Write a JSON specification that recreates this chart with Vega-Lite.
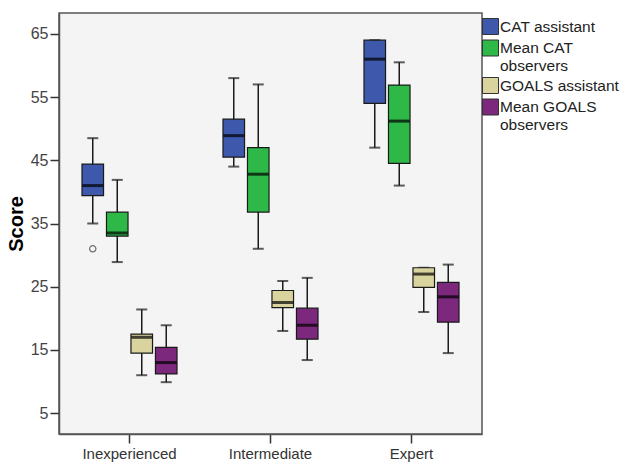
{
  "$schema": "https://vega.github.io/schema/vega-lite/v6.json",
  "autosize": {"type": "none"},
  "padding": {"left": 59, "top": 13, "right": 138, "bottom": 28},
  "width": 423,
  "height": 421,
  "background": "white",
  "config": {
    "view": {"fill": "#F4F4F4", "stroke": "#555555", "strokeWidth": 1.5},
    "font": "Liberation Sans",
    "axis": {
      "labelFont": "Liberation Sans", "labelColor": "#444444",
      "tickColor": "#333333", "tickWidth": 1.5, "domainColor": "#555555", "domainWidth": 1.5,
      "titleFont": "Liberation Sans", "titleFontSize": 20, "titleFontWeight": "bold", "titleColor": "#000000",
      "grid": false
    },
    "axisX": {"tickSize": 9, "labelPadding": 3, "labelColor": "#333333", "labelFontSize": 15},
    "axisY": {"tickSize": 9, "labelPadding": 2, "titlePadding": 4, "labelFontSize": 16},
    "legend": {
      "labelFont": "Liberation Sans", "labelFontSize": 15.5, "labelColor": "#222222"
    }
  },
  "datasets": {
    "boxes": [
      {"level": "Inexperienced", "series": "CAT assistant", "lower": 35.0, "q1": 39.4, "median": 41.0, "q3": 44.4, "upper": 48.5},
      {"level": "Inexperienced", "series": "Mean CAT observers", "lower": 28.9, "q1": 33.0, "median": 33.5, "q3": 36.8, "upper": 41.9},
      {"level": "Inexperienced", "series": "GOALS assistant", "lower": 11.0, "q1": 14.5, "median": 17.0, "q3": 17.5, "upper": 21.4},
      {"level": "Inexperienced", "series": "Mean GOALS observers", "lower": 9.9, "q1": 11.2, "median": 13.0, "q3": 15.4, "upper": 18.9},
      {"level": "Intermediate", "series": "CAT assistant", "lower": 44.0, "q1": 45.5, "median": 48.9, "q3": 51.5, "upper": 58.0},
      {"level": "Intermediate", "series": "Mean CAT observers", "lower": 31.0, "q1": 36.8, "median": 42.8, "q3": 47.0, "upper": 57.0},
      {"level": "Intermediate", "series": "GOALS assistant", "lower": 18.0, "q1": 21.7, "median": 22.5, "q3": 24.4, "upper": 25.9},
      {"level": "Intermediate", "series": "Mean GOALS observers", "lower": 13.4, "q1": 16.7, "median": 18.9, "q3": 21.6, "upper": 26.4},
      {"level": "Expert", "series": "CAT assistant", "lower": 47.0, "q1": 54.0, "median": 61.0, "q3": 64.0, "upper": 64.0},
      {"level": "Expert", "series": "Mean CAT observers", "lower": 41.0, "q1": 44.5, "median": 51.2, "q3": 56.9, "upper": 60.5},
      {"level": "Expert", "series": "GOALS assistant", "lower": 21.0, "q1": 24.9, "median": 27.0, "q3": 28.0, "upper": 28.0},
      {"level": "Expert", "series": "Mean GOALS observers", "lower": 14.5, "q1": 19.4, "median": 23.4, "q3": 25.7, "upper": 28.5}
    ],
    "outliers": [
      {"level": "Inexperienced", "series": "CAT assistant", "value": 31.0}
    ]
  },
  "encoding": {
    "x": {
      "field": "level", "type": "nominal",
      "sort": ["Inexperienced", "Intermediate", "Expert"],
      "scale": {"paddingInner": 0.326, "paddingOuter": 0.163},
      "axis": {"title": null, "labelAngle": 0}
    },
    "xOffset": {
      "field": "series", "type": "nominal",
      "sort": ["CAT assistant", "Mean CAT observers", "GOALS assistant", "Mean GOALS observers"],
      "scale": {"paddingInner": 0.12, "paddingOuter": 0}
    }
  },
  "layer": [
    {
      "data": {"name": "boxes"},
      "mark": {"type": "rule", "color": "#1a1a1a", "strokeWidth": 1.5},
      "encoding": {
        "y": {
          "field": "lower", "type": "quantitative",
          "scale": {"domain": [1.7, 68.3], "nice": false, "zero": false},
          "axis": {"title": "Score", "values": [5, 15, 25, 35, 45, 55, 65]}
        },
        "y2": {"field": "upper"}
      }
    },
    {
      "data": {"name": "boxes"},
      "mark": {"type": "tick", "color": "#1a1a1a", "size": 11, "thickness": 2},
      "encoding": {"y": {"field": "upper", "type": "quantitative"}}
    },
    {
      "data": {"name": "boxes"},
      "mark": {"type": "tick", "color": "#1a1a1a", "size": 11, "thickness": 2},
      "encoding": {"y": {"field": "lower", "type": "quantitative"}}
    },
    {
      "data": {"name": "boxes"},
      "mark": {"type": "bar", "stroke": "#1a1a1a", "strokeWidth": 1.2, "opacity": 1},
      "encoding": {
        "y": {"field": "q1", "type": "quantitative"},
        "y2": {"field": "q3"},
        "color": {
          "field": "series", "type": "nominal",
          "sort": ["CAT assistant", "Mean CAT observers", "GOALS assistant", "Mean GOALS observers"],
          "scale": {
            "domain": ["CAT assistant", "Mean CAT observers", "GOALS assistant", "Mean GOALS observers"],
            "range": ["#3E58AC", "#2EB848", "#D9D49E", "#7C287D"]
          },
          "legend": {
            "title": null, "orient": "none", "legendX": 423, "legendY": 5,
            "symbolType": "square", "symbolSize": 256, "symbolStrokeColor": "#333333",
            "symbolStrokeWidth": 1, "symbolOpacity": 1,
            "labelOffset": 1, "labelLimit": 200, "labelBaseline": "middle",
            "rowPadding": 0.5, "padding": 0,
            "labelExpr": "datum.label == 'Mean CAT observers' ? ['Mean CAT', 'observers'] : datum.label == 'Mean GOALS observers' ? ['Mean GOALS', 'observers'] : datum.label"
          }
        }
      }
    },
    {
      "data": {"name": "boxes"},
      "mark": {"type": "tick", "color": "#000000", "size": 21, "thickness": 3},
      "encoding": {"y": {"field": "median", "type": "quantitative"}}
    },
    {
      "data": {"name": "outliers"},
      "mark": {"type": "point", "shape": "circle", "filled": false, "size": 40, "stroke": "#333333", "strokeWidth": 1.2},
      "encoding": {"y": {"field": "value", "type": "quantitative"}}
    }
  ]
}
